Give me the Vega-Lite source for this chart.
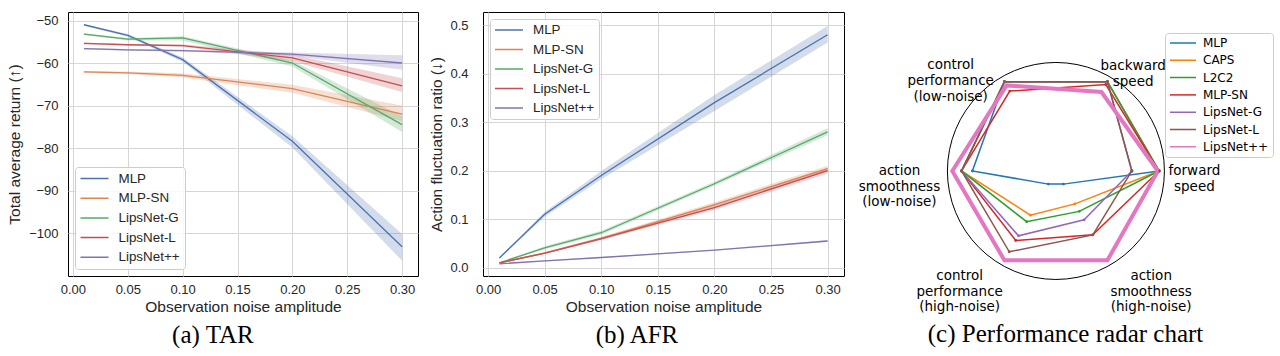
{
  "$schema": "https://vega.github.io/schema/vega-lite/v6.json",
  "background": "white",
  "padding": {"left": 7, "top": 11, "right": 0, "bottom": 0},
  "spacing": 10,
  "resolve": {"scale": {"color": "independent"}, "legend": {"color": "independent"}},
  "config": {
    "font": "Liberation Sans",
    "view": {"stroke": "black", "strokeWidth": 1},
    "axis": {
      "grid": true, "gridColor": "#d6d6d6", "gridWidth": 1,
      "ticks": false, "domain": false,
      "labelFont": "Liberation Sans", "labelFontSize": 13, "labelColor": "#262626",
      "titleFont": "Liberation Sans", "titleFontSize": 15.5, "titleFontWeight": "normal", "titleColor": "#262626"
    }
  },
  "hconcat": [
    {
      "width": 350, "height": 264,
      "title": {"text": "(a) TAR", "orient": "bottom", "anchor": "middle", "frame": "bounds", "font": "Liberation Serif", "fontSize": 25, "fontWeight": "normal", "color": "black", "offset": 8},
      "data": {"values": [
        {"method": "MLP", "noise": 0.01, "m": -51.0, "lo": -51.2, "hi": -50.8},
        {"method": "MLP", "noise": 0.05, "m": -53.5, "lo": -53.8, "hi": -53.2},
        {"method": "MLP", "noise": 0.10, "m": -59.2, "lo": -59.7, "hi": -58.7},
        {"method": "MLP", "noise": 0.20, "m": -78.4, "lo": -79.9, "hi": -77.2},
        {"method": "MLP", "noise": 0.30, "m": -103.2, "lo": -106.5, "hi": -100.2},
        {"method": "MLP-SN", "noise": 0.01, "m": -62.1, "lo": -62.3, "hi": -61.9},
        {"method": "MLP-SN", "noise": 0.05, "m": -62.3, "lo": -62.6, "hi": -62.0},
        {"method": "MLP-SN", "noise": 0.10, "m": -62.9, "lo": -63.4, "hi": -62.4},
        {"method": "MLP-SN", "noise": 0.20, "m": -66.0, "lo": -67.0, "hi": -65.1},
        {"method": "MLP-SN", "noise": 0.30, "m": -72.0, "lo": -73.7, "hi": -70.0},
        {"method": "LipsNet-G", "noise": 0.01, "m": -53.2, "lo": -53.4, "hi": -53.0},
        {"method": "LipsNet-G", "noise": 0.05, "m": -54.4, "lo": -54.7, "hi": -54.1},
        {"method": "LipsNet-G", "noise": 0.10, "m": -54.1, "lo": -54.7, "hi": -53.7},
        {"method": "LipsNet-G", "noise": 0.20, "m": -60.0, "lo": -60.8, "hi": -59.4},
        {"method": "LipsNet-G", "noise": 0.30, "m": -74.5, "lo": -76.2, "hi": -72.5},
        {"method": "LipsNet-L", "noise": 0.01, "m": -55.4, "lo": -55.6, "hi": -55.2},
        {"method": "LipsNet-L", "noise": 0.05, "m": -55.7, "lo": -55.9, "hi": -55.5},
        {"method": "LipsNet-L", "noise": 0.10, "m": -55.9, "lo": -56.2, "hi": -55.6},
        {"method": "LipsNet-L", "noise": 0.20, "m": -58.8, "lo": -59.6, "hi": -58.0},
        {"method": "LipsNet-L", "noise": 0.30, "m": -65.4, "lo": -66.8, "hi": -63.6},
        {"method": "LipsNet++", "noise": 0.01, "m": -56.6, "lo": -56.8, "hi": -56.4},
        {"method": "LipsNet++", "noise": 0.05, "m": -56.9, "lo": -57.1, "hi": -56.7},
        {"method": "LipsNet++", "noise": 0.10, "m": -57.1, "lo": -57.3, "hi": -56.9},
        {"method": "LipsNet++", "noise": 0.20, "m": -57.9, "lo": -58.3, "hi": -57.5},
        {"method": "LipsNet++", "noise": 0.30, "m": -60.0, "lo": -61.6, "hi": -58.2}
      ]},
      "encoding": {
        "x": {"field": "noise", "type": "quantitative", "scale": {"domain": [-0.0045, 0.3145], "nice": false, "zero": false},
              "axis": {"values": [0, 0.05, 0.1, 0.15, 0.2, 0.25, 0.3], "format": ".2f", "title": "Observation noise amplitude", "labelPadding": 7, "titlePadding": 3}},
        "color": {"field": "method", "type": "nominal",
                  "scale": {"domain": ["MLP", "MLP-SN", "LipsNet-G", "LipsNet-L", "LipsNet++"], "range": ["#4c72b0", "#dd8452", "#55a868", "#c44e52", "#8172b3"]},
                  "legend": {"title": null, "orient": "bottom-left", "offset": 7, "symbolType": "stroke", "symbolSize": 784, "symbolStrokeWidth": 1.5, "symbolOpacity": 1,
                             "clipHeight": 14, "rowPadding": 5.7,
                             "labelFont": "Liberation Sans", "labelFontSize": 13.4, "labelColor": "#262626", "labelOffset": 9,
                             "padding": 4.5, "strokeColor": "#cccccc", "fillColor": "rgba(255,255,255,0.85)", "cornerRadius": 3}}
      },
      "layer": [
        {
          "mark": {"type": "area", "opacity": 0.25},
          "encoding": {
            "y": {"field": "lo", "type": "quantitative", "scale": {"domain": [-110.1, -48.0], "nice": false, "zero": false},
                  "axis": {"values": [-100, -90, -80, -70, -60, -50], "format": "d", "title": "Total average return (↑)", "labelPadding": 10, "titlePadding": 6}},
            "y2": {"field": "hi"}
          }
        },
        {
          "mark": {"type": "line", "strokeWidth": 1.3},
          "encoding": {
            "y": {"field": "m", "type": "quantitative"}
          }
        }
      ]
    },
    {
      "width": 361, "height": 264,
      "title": {"text": "(b) AFR", "orient": "bottom", "anchor": "middle", "frame": "bounds", "font": "Liberation Serif", "fontSize": 25, "fontWeight": "normal", "color": "black", "offset": 8},
      "data": {"values": [
        {"method": "MLP", "noise": 0.01, "m": 0.020, "lo": 0.018, "hi": 0.022},
        {"method": "MLP", "noise": 0.05, "m": 0.110, "lo": 0.105, "hi": 0.115},
        {"method": "MLP", "noise": 0.10, "m": 0.190, "lo": 0.182, "hi": 0.199},
        {"method": "MLP", "noise": 0.20, "m": 0.340, "lo": 0.323, "hi": 0.356},
        {"method": "MLP", "noise": 0.30, "m": 0.480, "lo": 0.464, "hi": 0.498},
        {"method": "MLP-SN", "noise": 0.01, "m": 0.010, "lo": 0.009, "hi": 0.011},
        {"method": "MLP-SN", "noise": 0.05, "m": 0.030, "lo": 0.028, "hi": 0.032},
        {"method": "MLP-SN", "noise": 0.10, "m": 0.060, "lo": 0.057, "hi": 0.063},
        {"method": "MLP-SN", "noise": 0.20, "m": 0.130, "lo": 0.125, "hi": 0.135},
        {"method": "MLP-SN", "noise": 0.30, "m": 0.204, "lo": 0.198, "hi": 0.210},
        {"method": "LipsNet-G", "noise": 0.01, "m": 0.010, "lo": 0.009, "hi": 0.011},
        {"method": "LipsNet-G", "noise": 0.05, "m": 0.041, "lo": 0.038, "hi": 0.044},
        {"method": "LipsNet-G", "noise": 0.10, "m": 0.072, "lo": 0.068, "hi": 0.076},
        {"method": "LipsNet-G", "noise": 0.20, "m": 0.173, "lo": 0.169, "hi": 0.177},
        {"method": "LipsNet-G", "noise": 0.30, "m": 0.280, "lo": 0.273, "hi": 0.288},
        {"method": "LipsNet-L", "noise": 0.01, "m": 0.010, "lo": 0.009, "hi": 0.011},
        {"method": "LipsNet-L", "noise": 0.05, "m": 0.030, "lo": 0.028, "hi": 0.032},
        {"method": "LipsNet-L", "noise": 0.10, "m": 0.060, "lo": 0.057, "hi": 0.063},
        {"method": "LipsNet-L", "noise": 0.20, "m": 0.124, "lo": 0.119, "hi": 0.129},
        {"method": "LipsNet-L", "noise": 0.30, "m": 0.200, "lo": 0.194, "hi": 0.206},
        {"method": "LipsNet++", "noise": 0.01, "m": 0.008, "lo": 0.007, "hi": 0.009},
        {"method": "LipsNet++", "noise": 0.05, "m": 0.014, "lo": 0.013, "hi": 0.015},
        {"method": "LipsNet++", "noise": 0.10, "m": 0.021, "lo": 0.020, "hi": 0.022},
        {"method": "LipsNet++", "noise": 0.20, "m": 0.036, "lo": 0.035, "hi": 0.037},
        {"method": "LipsNet++", "noise": 0.30, "m": 0.055, "lo": 0.053, "hi": 0.057}
      ]},
      "encoding": {
        "x": {"field": "noise", "type": "quantitative", "scale": {"domain": [-0.0045, 0.3145], "nice": false, "zero": false},
              "axis": {"values": [0, 0.05, 0.1, 0.15, 0.2, 0.25, 0.3], "format": ".2f", "title": "Observation noise amplitude", "labelPadding": 7, "titlePadding": 3}},
        "color": {"field": "method", "type": "nominal",
                  "scale": {"domain": ["MLP", "MLP-SN", "LipsNet-G", "LipsNet-L", "LipsNet++"], "range": ["#4c72b0", "#dd8452", "#55a868", "#c44e52", "#8172b3"]},
                  "legend": {"title": null, "orient": "top-left", "offset": 7, "symbolType": "stroke", "symbolSize": 784, "symbolStrokeWidth": 1.5, "symbolOpacity": 1,
                             "clipHeight": 14, "rowPadding": 5.5,
                             "labelFont": "Liberation Sans", "labelFontSize": 13.4, "labelColor": "#262626", "labelOffset": 9,
                             "padding": 4, "strokeColor": "#cccccc", "fillColor": "rgba(255,255,255,0.85)", "cornerRadius": 3}}
      },
      "layer": [
        {
          "mark": {"type": "area", "opacity": 0.25},
          "encoding": {
            "y": {"field": "lo", "type": "quantitative", "scale": {"domain": [-0.0171, 0.5268], "nice": false, "zero": false},
                  "axis": {"values": [0, 0.1, 0.2, 0.3, 0.4, 0.5], "format": ".1f", "title": "Action fluctuation ratio (↓)", "labelPadding": 15, "titlePadding": 5}},
            "y2": {"field": "hi"}
          }
        },
        {
          "mark": {"type": "line", "strokeWidth": 1.3},
          "encoding": {
            "y": {"field": "m", "type": "quantitative"}
          }
        }
      ]
    },
    {
      "width": 427, "height": 301,
      "view": {"stroke": null},
      "title": {"text": "(c) Performance radar chart", "orient": "bottom", "anchor": "middle", "frame": "bounds", "font": "Liberation Serif", "fontSize": 25, "fontWeight": "normal", "color": "black", "offset": 8, "dx": -3},
      "data": {"values": [
        {"algo": "MLP", "axis": 0, "r": 0.95}, {"algo": "MLP", "axis": 1, "r": 0.95}, {"algo": "MLP", "axis": 2, "r": 0.95}, {"algo": "MLP", "axis": 3, "r": 0.77}, {"algo": "MLP", "axis": 4, "r": 0.14}, {"algo": "MLP", "axis": 5, "r": 0.14}, {"algo": "MLP", "axis": 6, "r": 0.95},
        {"algo": "CAPS", "axis": 0, "r": 0.95}, {"algo": "CAPS", "axis": 1, "r": 0.95}, {"algo": "CAPS", "axis": 2, "r": 0.95}, {"algo": "CAPS", "axis": 3, "r": 0.87}, {"algo": "CAPS", "axis": 4, "r": 0.47}, {"algo": "CAPS", "axis": 5, "r": 0.35}, {"algo": "CAPS", "axis": 6, "r": 0.95},
        {"algo": "L2C2", "axis": 0, "r": 0.95}, {"algo": "L2C2", "axis": 1, "r": 0.95}, {"algo": "L2C2", "axis": 2, "r": 0.95}, {"algo": "L2C2", "axis": 3, "r": 0.87}, {"algo": "L2C2", "axis": 4, "r": 0.54}, {"algo": "L2C2", "axis": 5, "r": 0.43}, {"algo": "L2C2", "axis": 6, "r": 0.95},
        {"algo": "MLP-SN", "axis": 0, "r": 0.95}, {"algo": "MLP-SN", "axis": 1, "r": 0.92}, {"algo": "MLP-SN", "axis": 2, "r": 0.85}, {"algo": "MLP-SN", "axis": 3, "r": 0.87}, {"algo": "MLP-SN", "axis": 4, "r": 0.74}, {"algo": "MLP-SN", "axis": 5, "r": 0.68}, {"algo": "MLP-SN", "axis": 6, "r": 0.95},
        {"algo": "LipsNet-G", "axis": 0, "r": 0.70}, {"algo": "LipsNet-G", "axis": 1, "r": 0.95}, {"algo": "LipsNet-G", "axis": 2, "r": 0.95}, {"algo": "LipsNet-G", "axis": 3, "r": 0.87}, {"algo": "LipsNet-G", "axis": 4, "r": 0.69}, {"algo": "LipsNet-G", "axis": 5, "r": 0.52}, {"algo": "LipsNet-G", "axis": 6, "r": 0.70},
        {"algo": "LipsNet-L", "axis": 0, "r": 0.70}, {"algo": "LipsNet-L", "axis": 1, "r": 0.95}, {"algo": "LipsNet-L", "axis": 2, "r": 0.95}, {"algo": "LipsNet-L", "axis": 3, "r": 0.87}, {"algo": "LipsNet-L", "axis": 4, "r": 0.86}, {"algo": "LipsNet-L", "axis": 5, "r": 0.68}, {"algo": "LipsNet-L", "axis": 6, "r": 0.70},
        {"algo": "LipsNet++", "axis": 0, "r": 0.94}, {"algo": "LipsNet++", "axis": 1, "r": 0.84}, {"algo": "LipsNet++", "axis": 2, "r": 0.91}, {"algo": "LipsNet++", "axis": 3, "r": 0.955}, {"algo": "LipsNet++", "axis": 4, "r": 0.95}, {"algo": "LipsNet++", "axis": 5, "r": 0.95}, {"algo": "LipsNet++", "axis": 6, "r": 0.94}
      ]},
      "transform": [
        {"calculate": "datum.r * cos(datum.axis * PI / 3)", "as": "px"},
        {"calculate": "datum.r * sin(datum.axis * PI / 3)", "as": "py"}
      ],
      "encoding": {
        "x": {"field": "px", "type": "quantitative", "scale": {"domain": [-1.852, 2.084], "nice": false, "zero": false}, "axis": null},
        "y": {"field": "py", "type": "quantitative", "scale": {"domain": [-1.309, 1.465], "nice": false, "zero": false}, "axis": null}
      },
      "layer": [
        {
          "data": {"values": [{"ring": "outer", "axis": 0, "r": 0}]},
          "transform": [
            {"calculate": "datum.r * cos(datum.axis * PI / 3)", "as": "px"},
            {"calculate": "datum.r * sin(datum.axis * PI / 3)", "as": "py"}
          ],
          "mark": {"type": "point", "shape": "circle", "size": 47089, "filled": false, "stroke": "black", "color": "black", "strokeWidth": 1, "opacity": 1}
        },
        {
          "transform": [{"filter": "datum.algo !== 'LipsNet++'"}],
          "mark": {"type": "line", "strokeWidth": 1.5},
          "encoding": {
            "order": {"field": "axis", "type": "quantitative"},
            "color": {"field": "algo", "type": "nominal",
                      "scale": {"domain": ["MLP", "CAPS", "L2C2", "MLP-SN", "LipsNet-G", "LipsNet-L", "LipsNet++"], "range": ["#1f77b4", "#ff7f0e", "#2ca02c", "#d62728", "#9467bd", "#8c564b", "#e377c2"]},
                      "legend": {"title": null, "orient": "none", "legendX": 310, "legendY": 21, "symbolType": "stroke", "symbolSize": 676, "symbolStrokeWidth": 1.5, "symbolOpacity": 1,
                                 "clipHeight": 12, "rowPadding": 5.3,
                                 "labelFont": "DejaVu Sans", "labelFontSize": 12, "labelColor": "black", "labelOffset": 6,
                                 "padding": 4, "strokeColor": "#cccccc", "fillColor": "rgba(255,255,255,0.85)", "cornerRadius": 3}}
          }
        },
        {
          "transform": [{"filter": "datum.algo !== 'LipsNet++'"}],
          "mark": {"type": "point", "filled": true, "size": 8, "opacity": 1},
          "encoding": {"color": {"field": "algo", "type": "nominal"}}
        },
        {
          "transform": [{"filter": "datum.algo === 'LipsNet++'"}],
          "mark": {"type": "line", "strokeWidth": 4},
          "encoding": {
            "order": {"field": "axis", "type": "quantitative"},
            "color": {"field": "algo", "type": "nominal"}
          }
        },
        {
          "data": {"values": [
            {"axis": 0, "label": "forward\nspeed"},
            {"axis": 1, "label": "backward\nspeed"},
            {"axis": 2, "label": "control\nperformance\n(low-noise)"},
            {"axis": 3, "label": "action\nsmoothness\n(low-noise)"},
            {"axis": 4, "label": "control\nperformance\n(high-noise)"},
            {"axis": 5, "label": "action\nsmoothness\n(high-noise)"}
          ]},
          "transform": [
            {"calculate": "cos(datum.axis * PI / 3)", "as": "px"},
            {"calculate": "sin(datum.axis * PI / 3)", "as": "py"}
          ],
          "layer": [
            {"transform": [{"filter": "datum.axis === 0"}], "mark": {"type": "text", "lineBreak": "\n", "align": "center", "baseline": "middle", "font": "DejaVu Sans", "fontSize": 13.5, "lineHeight": 15.7, "color": "black", "dx": 30, "dy": 0}, "encoding": {"text": {"field": "label"}}},
            {"transform": [{"filter": "datum.axis === 1"}], "mark": {"type": "text", "lineBreak": "\n", "align": "center", "baseline": "middle", "font": "DejaVu Sans", "fontSize": 13.5, "lineHeight": 15.7, "color": "black", "dx": 23, "dy": -11}, "encoding": {"text": {"field": "label"}}},
            {"transform": [{"filter": "datum.axis === 2"}], "mark": {"type": "text", "lineBreak": "\n", "align": "center", "baseline": "middle", "font": "DejaVu Sans", "fontSize": 13.5, "lineHeight": 15.7, "color": "black", "dx": -51, "dy": -11.5}, "encoding": {"text": {"field": "label"}}},
            {"transform": [{"filter": "datum.axis === 3"}], "mark": {"type": "text", "lineBreak": "\n", "align": "center", "baseline": "middle", "font": "DejaVu Sans", "fontSize": 13.5, "lineHeight": 15.7, "color": "black", "dx": -48, "dy": 0}, "encoding": {"text": {"field": "label"}}},
            {"transform": [{"filter": "datum.axis === 4"}], "mark": {"type": "text", "lineBreak": "\n", "align": "center", "baseline": "middle", "font": "DejaVu Sans", "fontSize": 13.5, "lineHeight": 15.7, "color": "black", "dx": -42, "dy": 11}, "encoding": {"text": {"field": "label"}}},
            {"transform": [{"filter": "datum.axis === 5"}], "mark": {"type": "text", "lineBreak": "\n", "align": "center", "baseline": "middle", "font": "DejaVu Sans", "fontSize": 13.5, "lineHeight": 15.7, "color": "black", "dx": 41, "dy": 11}, "encoding": {"text": {"field": "label"}}}
          ]
        }
      ]
    }
  ]
}
